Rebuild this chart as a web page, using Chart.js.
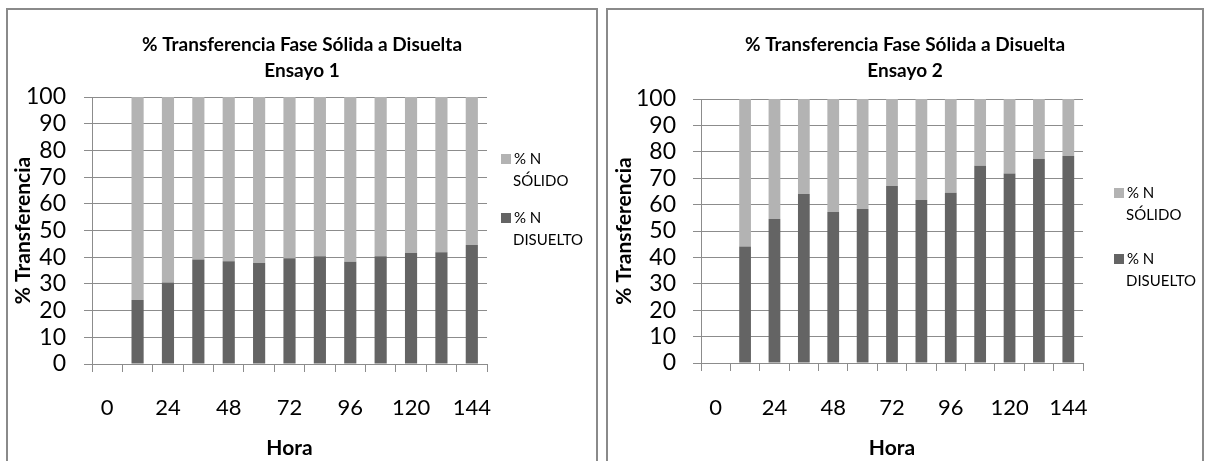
<!DOCTYPE html>
<html>
<head>
<meta charset="utf-8">
<script src="https://cdn.jsdelivr.net/npm/chart.js@4.4.0/dist/chart.umd.min.js"></script>
<style>
  body { margin: 0; background: #fff; width: 1209px; height: 461px; overflow: hidden; position: relative; }
  .panel { position: absolute; top: 8px; border: 2px solid #8a8a8a; background: #fff; }
  #p1 { left: 6px; width: 588px; height: 470px; }
  #p2 { left: 606px; width: 594px; height: 470px; }
  canvas { display: block; }
</style>
</head>
<body>
<div class="panel" id="p1"><canvas id="c1" width="588" height="460"></canvas></div>
<div class="panel" id="p2"><canvas id="c2" width="594" height="460"></canvas></div>
<script>
// horas de muestreo (categorias del eje x)
const horas = [0, 12, 24, 36, 48, 60, 72, 84, 96, 108, 120, 132, 144];

// Ensayo 1
const disuelto1 = [null, 24.0, 30.5, 39.1, 38.5, 37.8, 39.6, 40.4, 38.3, 40.4, 41.6, 41.9, 44.6];
const solido1   = [null, 76.0, 69.5, 60.9, 61.5, 62.2, 60.4, 59.6, 61.7, 59.6, 58.4, 58.1, 55.4];

// Ensayo 2
const disuelto2 = [null, 44.1, 54.5, 64.0, 57.2, 58.3, 67.0, 61.7, 64.5, 74.7, 71.8, 77.4, 78.4];
const solido2   = [null, 55.9, 45.5, 36.0, 42.8, 41.7, 33.0, 38.3, 35.5, 25.3, 28.2, 22.6, 21.6];

const FONT = 'Lato, "Open Sans", sans-serif';
const GRIS = '#8c8c8c';

// titulo centrado en todo el canvas + leyenda en dos lineas a la derecha
const marco = {
  id: 'marco',
  afterDraw(chart, args, o) {
    const ctx = chart.ctx;
    ctx.save();
    ctx.fillStyle = '#000';
    ctx.textAlign = 'center';
    ctx.textBaseline = 'middle';
    ctx.font = 'bold 19px ' + FONT;
    o.titulo.forEach((t, i) => ctx.fillText(t, chart.width / 2, 35 + i * 26));

    ctx.textAlign = 'left';
    ctx.font = '15px ' + FONT;
    const ds = chart.data.datasets.slice().reverse();
    ds.forEach((d, i) => {
      const y = o.leyY[i];
      const k = d.label.lastIndexOf(' ');
      ctx.fillStyle = d.backgroundColor;
      ctx.fillRect(o.leyX, y - 5, 10, 10);
      ctx.fillStyle = '#000';
      ctx.fillText(d.label.slice(0, k), o.leyX + 13, y);
      ctx.fillText(d.label.slice(k + 1), o.leyX + 12, y + 22);
    });
    ctx.restore();
  }
};

function grafico(id, titulo, disuelto, solido, g) {
  return new Chart(document.getElementById(id), {
    type: 'bar',
    data: {
      labels: horas,
      datasets: [
        { label: '% N DISUELTO', data: disuelto, backgroundColor: '#646464', barPercentage: 0.4, categoryPercentage: 1.0 },
        { label: '% N SÓLIDO', data: solido, backgroundColor: '#b3b3b3', barPercentage: 0.4, categoryPercentage: 1.0 }
      ]
    },
    options: {
      responsive: false,
      animation: false,
      layout: { padding: { top: g.top, right: g.right, left: 0, bottom: 0 } },
      plugins: {
        legend: { display: false },
        tooltip: { enabled: false },
        marco: { titulo: titulo, leyX: g.leyX, leyY: g.leyY }
      },
      scales: {
        x: {
          stacked: true,
          grid: { drawOnChartArea: false, tickLength: 8, color: GRIS, offset: true },
          border: { color: GRIS },
          ticks: {
            autoSkip: false, maxRotation: 0, color: '#000', padding: g.xPad,
            font: { family: FONT, size: 22 },
            callback: (v, i) => (horas[i] % 24 === 0 ? String(horas[i]) : '')
          },
          title: { display: true, text: 'Hora', color: '#000', font: { family: FONT, size: 21, weight: 'bold' }, padding: { top: 0, bottom: 9 } },
          afterFit: s => { s.height = g.xH; }
        },
        y: {
          stacked: true, min: 0, max: 100,
          grid: { color: GRIS, tickLength: 8 },
          border: { color: GRIS },
          ticks: { stepSize: 10, autoSkip: false, color: '#000', padding: g.yPad, font: { family: FONT, size: 23 } },
          title: { display: true, text: '% Transferencia', color: '#000', font: { family: FONT, size: 21, weight: 'bold' }, padding: { top: g.yTitle, bottom: 0 } },
          afterFit: s => { s.width = g.yW; }
        }
      }
    },
    plugins: [marco]
  });
}

grafico('c1', ['% Transferencia Fase Sólida a Disuelta', 'Ensayo 1'], disuelto1, solido1,
  { top: 87, right: 109, xH: 106, yW: 84, xPad: 23, yPad: 18, yTitle: 3, leyX: 493, leyY: [149, 208] });
grafico('c2', ['% Transferencia Fase Sólida a Disuelta', 'Ensayo 2'], disuelto2, solido2,
  { top: 89, right: 119, xH: 107, yW: 93, xPad: 24, yPad: 17, yTitle: 4, leyX: 506, leyY: [183, 249] });
</script>
</body>
</html>
